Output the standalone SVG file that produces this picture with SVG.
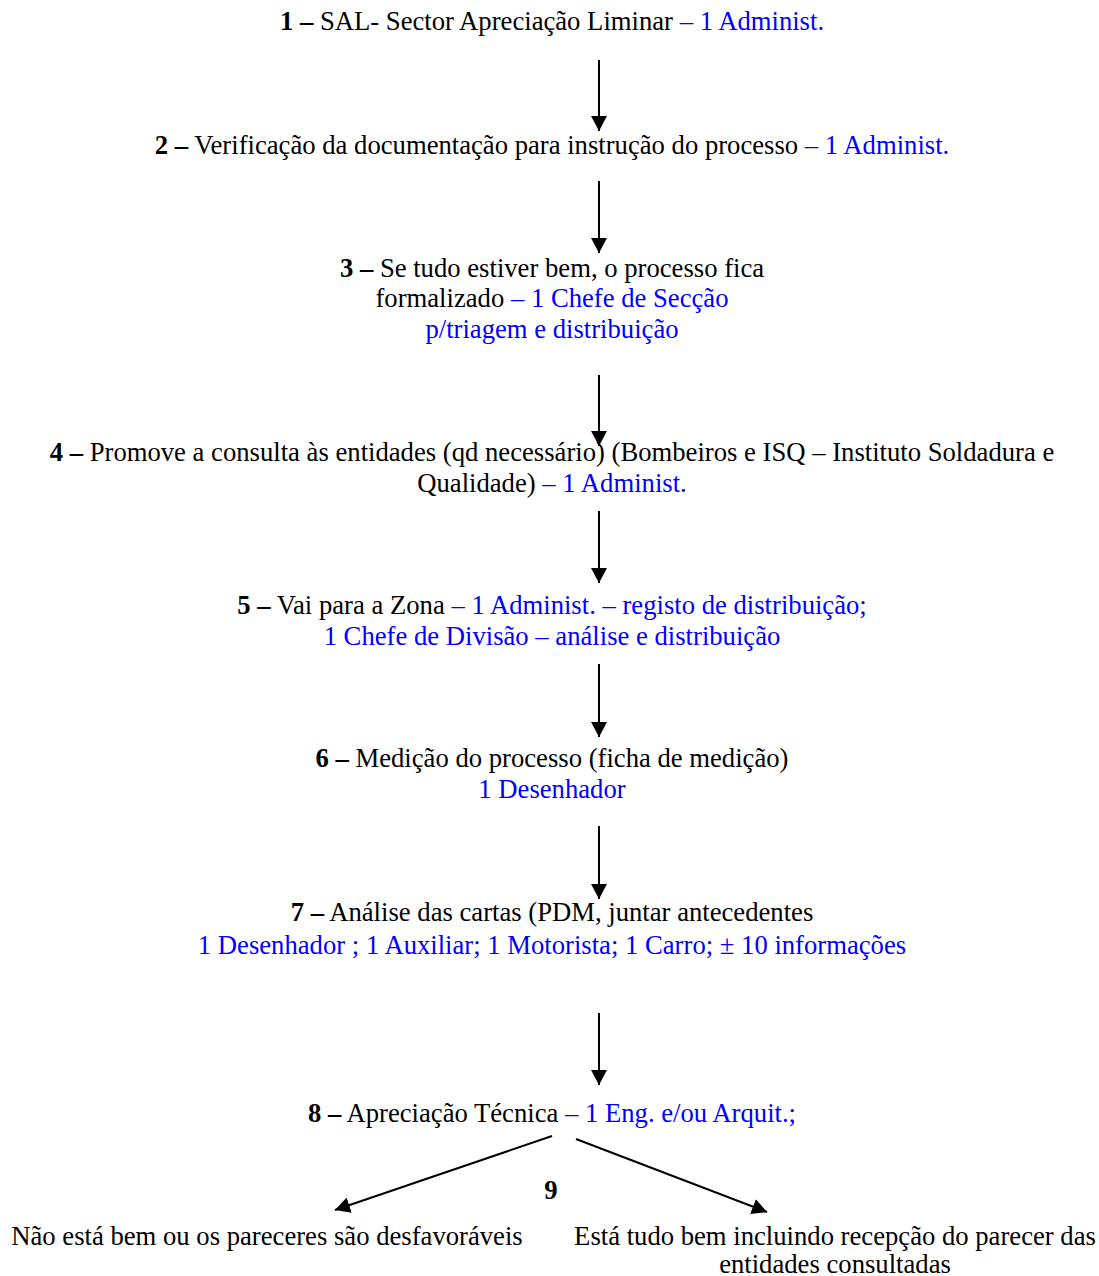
<svg xmlns="http://www.w3.org/2000/svg" width="1099" height="1276" viewBox="0 0 1099 1276">
<defs>
<style>
text{font-family:"Liberation Serif","Times New Roman",serif;font-size:26.67px;fill:#000;text-anchor:middle}
.b{font-weight:bold}
.u{fill:#0000ff}
.c{stroke:#000;stroke-width:2;fill:none;marker-end:url(#ah)}
</style>
<marker id="ah" markerUnits="userSpaceOnUse" markerWidth="16" markerHeight="16" viewBox="0 0 16 16" refX="15" refY="8" orient="auto">
<path d="M0,0 L15,8 L0,16 Z" fill="#000"/>
</marker>
</defs>
<rect width="1099" height="1276" fill="#fff"/>
<g id="connectors">
<line class="c" x1="599" y1="60" x2="599" y2="131"/>
<line class="c" x1="599" y1="181" x2="599" y2="253"/>
<line class="c" x1="599" y1="375" x2="599" y2="446"/>
<line class="c" x1="599" y1="511" x2="599" y2="583"/>
<line class="c" x1="599" y1="664" x2="599" y2="737"/>
<line class="c" x1="599" y1="826" x2="599" y2="899"/>
<line class="c" x1="599" y1="1013" x2="599" y2="1085"/>
<line class="c" x1="552" y1="1136" x2="335" y2="1210"/>
<line class="c" x1="576" y1="1139" x2="767" y2="1212"/>
</g>
<g id="n1"><text x="552" y="30"><tspan class="b">1 –</tspan> SAL- Sector Apreciação Liminar <tspan class="u">– 1 Administ.</tspan></text></g>
<g id="n2"><text x="552" y="154"><tspan class="b">2 –</tspan> Verificação da documentação para instrução do processo <tspan class="u">– 1 Administ.</tspan></text></g>
<g id="n3">
<text x="552" y="277"><tspan class="b">3 –</tspan> Se tudo estiver bem, o processo fica</text>
<text x="552" y="307">formalizado <tspan class="u">– 1 Chefe de Secção</tspan></text>
<text x="552" y="338" class="u">p/triagem e distribuição</text>
</g>
<g id="n4">
<text x="552" y="461"><tspan class="b">4 –</tspan> Promove a consulta às entidades (qd necessário) (Bombeiros e ISQ – Instituto Soldadura e</text>
<text x="552" y="492">Qualidade) <tspan class="u">– 1 Administ.</tspan></text>
</g>
<g id="n5">
<text x="552" y="614"><tspan class="b">5 –</tspan> Vai para a Zona <tspan class="u">– 1 Administ. – registo de distribuição;</tspan></text>
<text x="552" y="645" class="u">1 Chefe de Divisão – análise e distribuição</text>
</g>
<g id="n6">
<text x="552" y="767"><tspan class="b">6 –</tspan> Medição do processo (ficha de medição)</text>
<text x="552" y="798" class="u">1 Desenhador</text>
</g>
<g id="n7">
<text x="552" y="921"><tspan class="b">7 –</tspan> Análise das cartas (PDM, juntar antecedentes</text>
<text x="552" y="954" class="u">1 Desenhador ; 1 Auxiliar; 1 Motorista; 1 Carro; ± 10 informações</text>
</g>
<g id="n8"><text x="552" y="1122"><tspan class="b">8 –</tspan> Apreciação Técnica <tspan class="u">– 1 Eng. e/ou Arquit.;</tspan></text></g>
<g id="n9"><text x="551" y="1199" class="b">9</text></g>
<g id="n10"><text x="267" y="1245">Não está bem ou os pareceres são desfavoráveis</text></g>
<g id="n11">
<text x="835" y="1245">Está tudo bem incluindo recepção do parecer das</text>
<text x="835" y="1273">entidades consultadas</text>
</g>
</svg>
